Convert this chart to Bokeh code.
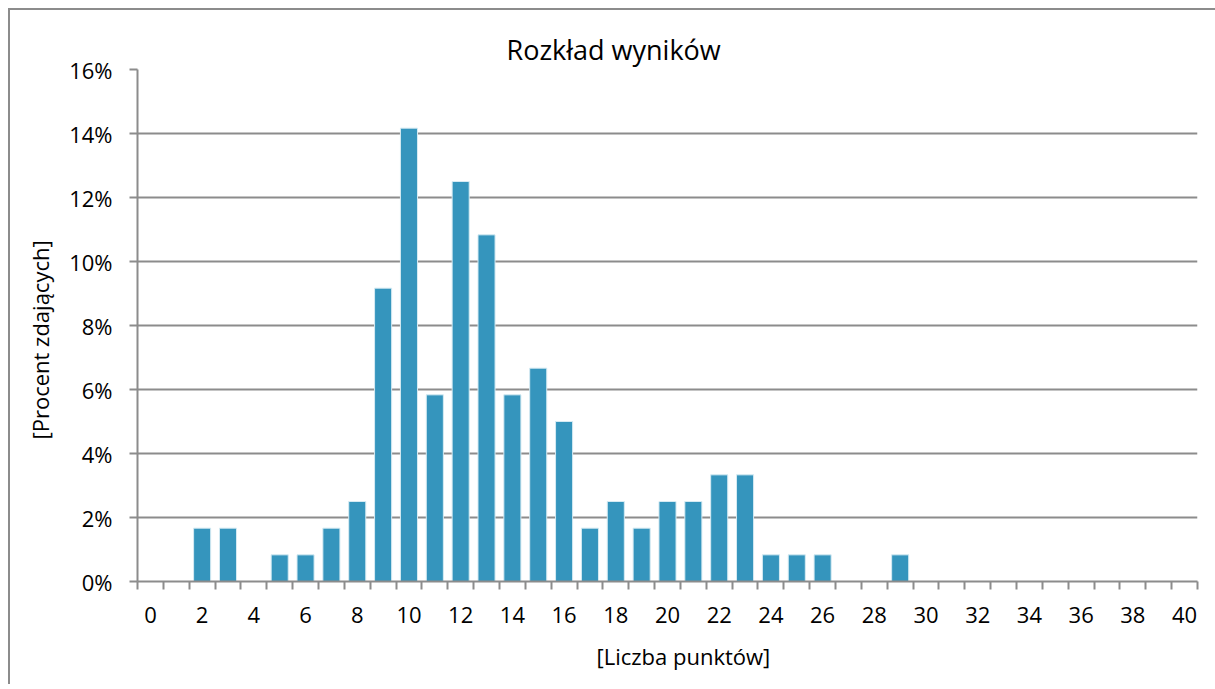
from bokeh.plotting import figure
from bokeh.models import Range1d, FixedTicker, NumeralTickFormatter, Title
from bokeh.embed import file_html
from bokeh.resources import INLINE

# Data
points = list(range(0, 41))
percent = [0, 0, 1.667, 1.667, 0, 0.833, 0.833, 1.667, 2.5, 9.167,
           14.167, 5.833, 12.5, 10.833, 5.833, 6.667, 5.0, 1.667, 2.5, 1.667,
           2.5, 2.5, 3.333, 3.333, 0.833, 0.833, 0.833, 0, 0, 0.833,
           0, 0, 0, 0, 0, 0, 0, 0, 0, 0, 0]
share = [v / 100.0 for v in percent]
x_tick_labels = list(range(0, 41, 2))
x_boundaries = [i - 0.5 for i in range(0, 42)]
y_ticks = [0, 0.02, 0.04, 0.06, 0.08, 0.10, 0.12, 0.14, 0.16]

FONT = "Open Sans"
GRID = "#8c8c8c"

p = figure(width=1205, height=679,
           frame_width=1060, frame_height=512,
           x_range=Range1d(-0.5, 40.5), y_range=Range1d(0, 0.16),
           output_backend="svg", toolbar_location=None,
           min_border_left=126, min_border_right=19,
           min_border_top=59, min_border_bottom=98,
           title="Rozkład wyników")
p.styles = {"margin-left": "8px", "margin-top": "8px",
            "border-left": "2px solid #8c8c8c", "border-top": "2px solid #8c8c8c"}

p.title.align = "left"
p.title.offset = 369
p.title.text_font = FONT
p.title.text_font_size = "27px"
p.title.text_font_style = "normal"
p.title.text_color = "#000000"
p.title.standoff = 4

p.vbar(x=points, top=share, width=0.66, fill_color="#3595bd",
       line_color="#d6ebf3", line_width=1)

p.outline_line_color = None
p.xgrid.grid_line_color = None
p.ygrid.ticker = FixedTicker(ticks=y_ticks)
p.ygrid.grid_line_color = GRID
p.ygrid.grid_line_width = 2

xa = p.xaxis[0]
xa.ticker = FixedTicker(ticks=x_tick_labels, minor_ticks=x_boundaries)
xa.major_tick_out = 0
xa.major_tick_in = 0
xa.minor_tick_out = 8
xa.minor_tick_in = 0
xa.minor_tick_line_color = GRID
xa.minor_tick_line_width = 2
xa.axis_line_color = GRID
xa.axis_line_width = 2
xa.major_label_text_font = FONT
xa.major_label_text_font_size = "22px"
xa.major_label_text_color = "#000000"
xa.major_label_standoff = 17

ya = p.yaxis[0]
ya.ticker = FixedTicker(ticks=y_ticks)
ya.formatter = NumeralTickFormatter(format="0%")
ya.major_tick_out = 8
ya.major_tick_in = 0
ya.major_tick_line_color = GRID
ya.major_tick_line_width = 2
ya.minor_tick_line_color = None
ya.axis_line_color = GRID
ya.axis_line_width = 2
ya.major_label_text_font = FONT
ya.major_label_text_font_size = "22px"
ya.major_label_text_color = "#000000"
ya.major_label_standoff = 17

x_title = Title(text="[Liczba punktów]", align="left", offset=459,
                text_font=FONT, text_font_size="22px", text_font_style="normal",
                text_color="#000000", standoff=27)
p.add_layout(x_title, "below")

y_title = Title(text="[Procent zdających]", align="left", offset=142,
                text_font=FONT, text_font_size="22px", text_font_style="normal",
                text_color="#000000", standoff=24)
p.add_layout(y_title, "left")

open("out.html", "w").write(file_html(p, INLINE))
